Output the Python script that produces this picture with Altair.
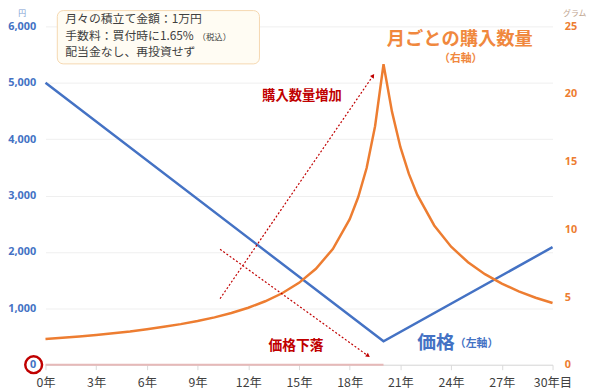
import altair as alt
import pandas as pd

FONT = "Noto Sans CJK JP"
NUMFONT = "Open Sans"

# ---- data ----
price_years = [0, 20, 30]
price_values = [5000, 415, 2085]

qty_years = [0, 1, 2, 3, 4, 5, 6, 7, 8, 9, 10, 11, 12, 13, 14, 15, 16, 17, 18,
             18.5, 19, 19.5, 20, 20.5, 21, 21.5, 22,
             23, 24, 25, 26, 27, 28, 29, 30]
qty_values = [1.90, 1.99, 2.09, 2.20, 2.33, 2.46, 2.62, 2.80, 3.00, 3.23, 3.50,
              3.82, 4.21, 4.69, 5.28, 6.05, 7.09, 8.55, 10.76,
              12.37, 14.53, 17.62, 22.2, 18.70, 16.07, 14.10, 12.55,
              10.29, 8.72, 7.57, 6.69, 5.99, 5.42, 4.95, 4.56]

x_ticks = [0, 3, 6, 9, 12, 15, 18, 21, 24, 27, 30]
left_ticks = [0, 1000, 2000, 3000, 4000, 5000, 6000]
right_ticks = [0, 5, 10, 15, 20, 25]

note_lines = ["月々の積立て金額：1万円", "手数料：買付時に1.65%", "配当金なし、再投資せず"]
note_small = "（税込）"

BLUE = "#4472C4"
ORANGE = "#ED7D31"
DARKRED = "#C00000"

xscale = alt.Scale(domain=[0, 30], nice=False)
lscale = alt.Scale(domain=[0, 6000], nice=False)
rscale = alt.Scale(domain=[0, 25], nice=False)

xaxis = alt.Axis(values=x_ticks,
                 labelExpr="datum.value == 30 ? '30年目' : datum.value + '年'",
                 title="", grid=False, domainColor="#D9D9D9", tickColor="#D9D9D9",
                 tickSize=5, labelColor="#404040", labelFontSize=12.5, labelFont=FONT,
                 labelPadding=7, labelOverlap=False, labelFlush=False)


def X(field="year"):
    return alt.X(f"{field}:Q", scale=xscale, axis=xaxis)


def Yl(field="p"):
    return alt.Y(f"{field}:Q", scale=lscale, axis=None)


# text box
box_df = pd.DataFrame({"year": [0.70], "year2": [12.66], "p": [6280], "p2": [5335]})
box = alt.Chart(box_df).mark_rect(fill="#FFFCF3", stroke="#F5D7B0", strokeWidth=1,
                                  cornerRadius=6).encode(
    x=X(), x2="year2:Q", y=Yl(), y2="p2:Q")

# pink baseline highlight
base_df = pd.DataFrame({"year": [0], "year2": [20], "p": [0]})
base = alt.Chart(base_df).mark_rule(color="#E6B9B8", strokeWidth=2).encode(
    x=X(), x2="year2:Q", y=Yl())

# price line (left axis)
price_df = pd.DataFrame({"year": price_years, "price": price_values})
price_line = alt.Chart(price_df).mark_line(color=BLUE, strokeWidth=2.5).encode(
    x=X(),
    y=alt.Y("price:Q", scale=lscale,
            axis=alt.Axis(orient="left", values=left_ticks,
                          labelExpr="format(datum.value, ',.0f')",
                          labelColor=BLUE, labelFontWeight="bold", labelFontSize=11,
                          labelFont=NUMFONT, ticks=False, domain=False, grid=True,
                          gridColor="#EFEFEF", labelPadding=10,
                          title="円", titleAngle=0, titleX=-24, titleY=-13.5,
                          titleBaseline="middle", titleAlign="center", titleFontSize=8,
                          titleColor="#7B9BD2", titleFontWeight="normal", titleFont=FONT)))

# quantity line (right axis)
qty_df = pd.DataFrame({"year": qty_years, "qty": qty_values})
qty_line = alt.Chart(qty_df).mark_line(color=ORANGE, strokeWidth=2.5).encode(
    x=X(),
    y=alt.Y("qty:Q", scale=rscale,
            axis=alt.Axis(orient="right", values=right_ticks,
                          labelColor=ORANGE, labelFontWeight="bold", labelFontSize=11,
                          labelFont=NUMFONT, ticks=False, domain=False, grid=False,
                          labelPadding=12,
                          title="グラム", titleAngle=0, titleX=22, titleY=-13.5,
                          titleBaseline="middle", titleAlign="center", titleFontSize=8,
                          titleColor="#BFA58F", titleFontWeight="normal", titleFont=FONT)))

# dotted arrows
arrow_df = pd.DataFrame({"year": [10.33, 10.33], "year2": [19.38, 19.09],
                         "p": [1172, 2047], "p2": [5125, 157]})
arrows = alt.Chart(arrow_df).mark_rule(color=DARKRED, strokeWidth=1.2,
                                       strokeDash=[2, 2]).encode(
    x=X(), x2="year2:Q", y=Yl(), y2="p2:Q")

head1 = alt.Chart(pd.DataFrame({"year": [19.38], "p": [5125]})).mark_point(
    shape="triangle-up", filled=True, color=DARKRED, size=22, angle=34, opacity=1).encode(
    x=X(), y=Yl())
head2 = alt.Chart(pd.DataFrame({"year": [19.09], "p": [157]})).mark_point(
    shape="triangle-up", filled=True, color=DARKRED, size=22, angle=126, opacity=1).encode(
    x=X(), y=Yl())


def text_layer(x, p, txt, size, color, weight="normal", align="left"):
    df = pd.DataFrame({"year": [x], "p": [p], "t": [txt]})
    return alt.Chart(df).mark_text(font=FONT, fontSize=size, color=color,
                                   fontWeight=weight, align=align,
                                   baseline="middle").encode(
        x=X(), y=Yl(), text="t:N")


note_ys = [6132, 5834, 5537]
notes = [text_layer(1.17, y, t, 12, "#404040") for t, y in zip(note_lines, note_ys)]
note_tax = text_layer(9.0, 5816, note_small, 8.5, "#404040")

t_up = text_layer(15.175, 4758, "購入数量増加", 13.5, DARKRED, "bold", "center")
t_down = text_layer(14.825, 332, "価格下落", 14, DARKRED, "bold", "center")
t_price = text_layer(22.0, 385, "価格", 19, BLUE, "bold")
t_price2 = text_layer(24.22, 367, "（左軸）", 11, BLUE, "bold")
t_qty = text_layer(24.51, 5773, "月ごとの購入数量", 18.5, "#F0883E", "bold", "center")
t_qty2 = text_layer(24.57, 5423, "（右軸）", 11, "#F0883E", "bold", "center")

circle = alt.Chart(pd.DataFrame({"year": [-0.70], "p": [0]})).mark_point(
    shape="circle", filled=False, color=DARKRED, size=290, strokeWidth=2.5,
    opacity=1).encode(x=X(), y=Yl())

chart = alt.layer(
    box, base, price_line, qty_line, arrows, head1, head2,
    *notes, note_tax, t_up, t_down, t_price, t_price2, t_qty, t_qty2, circle
).resolve_scale(y="independent").properties(
    width=514, height=343,
    padding={"left": 38, "top": 16, "right": 40, "bottom": 24},
    autosize=alt.AutoSizeParams(type="none"),
    background="white",
).configure_view(strokeWidth=0)

chart.save("out.html", embed_options={"renderer": "svg", "actions": False})
